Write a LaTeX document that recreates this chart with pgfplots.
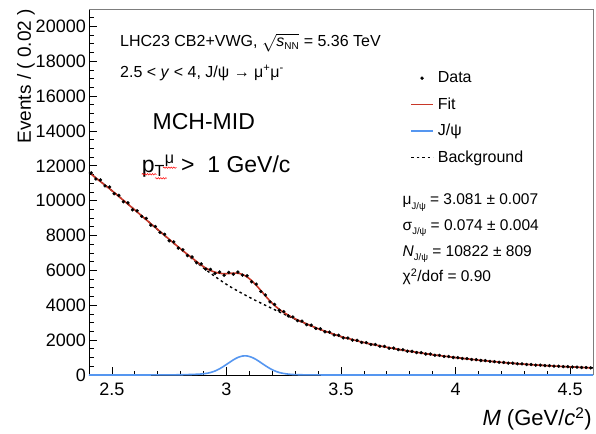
\documentclass[border=0pt]{standalone}
\usepackage{pgfplots}
\usepackage{pgfplotstable}
\pgfplotsset{compat=1.18}
\usepackage{fontspec}
\setmainfont{Liberation Sans}
\usetikzlibrary{decorations.pathmorphing}
\definecolor{fitred}{RGB}{200,55,40}
\definecolor{jpsiblue}{RGB}{85,150,240}
\definecolor{framegray}{RGB}{125,125,125}

\pgfplotstableread{
x     fit    data
2.41  11516  11600
2.43  11308  11250
2.45  11100  11190
2.47  10892  10850
2.49  10684  10790
2.51  10469  10400
2.53  10247  10310
2.55  10025  9940
2.57  9803   9880
2.59  9581   9480
2.61  9357   9420
2.63  9131   9100
2.65  8905   8990
2.67  8679   8600
2.69  8457   8520
2.71  8233   8180
2.73  8010   8070
2.75  7788   7700
2.77  7566   7640
2.79  7345   7280
2.81  7129   7187
2.83  6920   6851
2.85  6712   6775
2.87  6507   6439
2.89  6306   6373
2.91  6134   6076
2.93  6000   6058
2.95  5900   5830
2.97  5839   5912
2.99  5810   5724
3.01  5820   5891
3.03  5845   5783
3.05  5838   5905
3.07  5770   5727
3.09  5626   5689
3.11  5414   5346
3.13  5149   5218
3.15  4847   4790
3.17  4539   4592
3.19  4247   4194
3.21  3990   4050
3.23  3772   3720
3.25  3593   3640
3.27  3433   3390
3.29  3289   3330
3.31  3163   3120
3.33  3047   3090
3.35  2933   2890
3.37  2821   2860
3.39  2709   2670
3.41  2608   2650
3.43  2517   2480
3.45  2426   2460
3.47  2335   2300
3.49  2245   2280
3.51  2166   2130
3.53  2098   2120
3.55  2030   2000
3.57  1962   1990
3.59  1894   1870
3.61  1833   1860
3.63  1779   1750
3.65  1725   1750
3.67  1671   1650
3.69  1617   1640
3.71  1567   1540
3.73  1521   1545
3.75  1475   1455
3.77  1429   1450
3.79  1383   1365
3.81  1340   1360
3.83  1302   1285
3.85  1262   1280
3.87  1224   1205
3.89  1184   1200
3.91  1148   1135
3.93  1115   1130
3.95  1082   1065
3.97  1050   1062
3.99  1016   1005
4.01  985    995
4.03  956    945
4.05  928    940
4.07  898    888
4.09  870    880
4.11  842    832
4.13  816    826
4.15  790    782
4.17  764    772
4.19  738    730
4.21  714    722
4.23  694    686
4.25  672    680
4.27  652    645
4.29  630    637
4.31  611    604
4.33  594    601
4.35  578    571
4.37  560    566
4.39  544    539
4.41  528    533
4.43  514    508
4.45  500    505
4.47  486    481
4.49  472    476
4.51  459    455
4.53  447    451
4.55  435    431
4.57  423    427
4.59  411    408
}\mass

\pgfplotstableread{
x    bg
2.40 11620
2.50 10580
2.60 9470
2.70 8340
2.80 7220
2.90 6140
3.00 5200
3.10 4460
3.20 3810
3.30 3200
3.40 2650
3.50 2200
3.60 1860
3.70 1590
3.80 1360
3.90 1165
4.00 1000
4.10 855
4.20 725
4.30 620
4.40 535
4.50 465
4.60 405
}\bkg

\begin{document}
\begin{tikzpicture}[x=1pt,y=1pt]
\begin{axis}[
  scale only axis, width=504pt, height=366pt,
  xmin=2.4, xmax=4.6, ymin=0, ymax=21000,
  clip=false,
  axis x line*=bottom, axis y line*=left,
  axis line style={black, line width=0.9pt},
  xtick={2.5,3,3.5,4,4.5}, xticklabels={2.5,3,3.5,4,4.5},
  minor xtick={2.4,2.5,2.6,2.7,2.8,2.9,3.0,3.1,3.2,3.3,3.4,3.5,3.6,3.7,3.8,3.9,4.0,4.1,4.2,4.3,4.4,4.5,4.6},
  ytick={0,2000,...,20000},
  minor ytick={0,500,...,21000},
  scaled y ticks=false,
  /pgf/number format/1000 sep={},
  /pgf/number format/assume math mode=true,
  tick align=inside,
  major tick length=8pt, minor tick length=4.5pt,
  tick style={black, line width=0.8pt},
  tick label style={font=\fontsize{18}{18}\selectfont},
  yticklabel style={inner sep=0pt, xshift=-3pt},
  xticklabel style={inner sep=0pt, yshift=-8pt},
  ylabel={Events / ( 0.02 )},
  ylabel style={font=\fontsize{19}{19}\selectfont, at={(axis description cs:-0.125,1.0)}, anchor=east, inner sep=0pt},
  xlabel={\textit{M} (GeV/\textit{c}\textsuperscript{2})},
  xlabel style={font=\fontsize{22}{22}\selectfont, at={(axis description cs:1,0)}, anchor=east, inner sep=0pt, xshift=-1pt, yshift=-44pt},
  legend image code/.code={\draw[mark repeat=2,mark phase=2,#1] plot coordinates {(0pt,0pt) (11pt,0pt) (22pt,0pt)};},
  reverse legend,
  legend cell align=left,
  legend style={draw=none, fill=none, inner sep=0pt, at={(axis description cs:0.637,0.832)}, anchor=north west,
    font=\fontsize{16}{16}\selectfont, row sep=11.5pt, column sep=4pt,
    nodes={inner sep=0pt, text height=12pt, text depth=3pt}},
]
\addplot[black, line width=1.4pt, dash pattern=on 2.5pt off 3pt, smooth] table[x=x, y=bg] {\bkg};
\addlegendentry{Background}
\addplot[jpsiblue, line width=1.6pt, smooth] coordinates {
(2.40,0) (2.50,0) (2.60,1) (2.65,2) (2.69,4) (2.71,5) (2.73,6) (2.75,8) (2.77,10) (2.79,13)
(2.81,17) (2.83,24) (2.85,32) (2.87,43) (2.89,58) (2.91,88) (2.93,142) (2.95,230) (2.97,357)
(2.99,516) (3.01,694) (3.03,867) (3.05,1008) (3.07,1088) (3.09,1092) (3.11,1019) (3.13,884)
(3.15,712) (3.17,534) (3.19,372) (3.21,241) (3.23,145) (3.25,88) (3.27,50) (3.29,28) (3.31,18)
(3.33,12) (3.35,8) (3.37,6) (3.39,4) (3.45,2) (3.60,1) (3.80,0) (4.60,0)};
\addlegendentry{J/ψ}
\addplot[fitred, line width=1.6pt, smooth] table[x=x, y=fit] {\mass};
\addlegendentry{Fit}
\addplot[black, only marks, mark=*, mark size=1.5pt] table[x=x, y=data] {\mass};
\addlegendentry{Data}

\draw[framegray, line width=0.9pt] (rel axis cs:0,1) -- (rel axis cs:1,1) -- (rel axis cs:1,0);

\node[anchor=base west, inner sep=0pt, font=\fontsize{16}{16}\selectfont] at (axis description cs:0.0615,0.897)
  {LHC23 CB2+VWG, $\sqrt{\mbox{\itshape s}_{\mbox{\fontsize{10}{10}\selectfont NN}}}$ = 5.36 TeV};
\node[anchor=base west, inner sep=0pt, font=\fontsize{16}{16}\selectfont] at (axis description cs:0.0615,0.813)
  {2.5 < \textit{y} < 4, J/ψ → μ\textsuperscript{+}μ\textsuperscript{-}};
\node[anchor=base west, inner sep=0pt, font=\fontsize{23}{23}\selectfont] at (axis description cs:0.126,0.672)
  {MCH-MID};
\node[anchor=base west, inner sep=0pt, font=\fontsize{23}{23}\selectfont] at (axis description cs:0.1045,0.552)
  {p\textsubscript{T}\textsuperscript{μ} > ~1 GeV/c};
\draw[red, line width=0.5pt, decorate, decoration={snake, amplitude=0.7pt, segment length=2.5pt}]
  (axis description cs:0.1046,0.5484) -- (axis description cs:0.1343,0.5484);
\draw[red, line width=0.5pt, decorate, decoration={snake, amplitude=0.7pt, segment length=2.5pt}]
  (axis description cs:0.131,0.5374) -- (axis description cs:0.154,0.5374);
\draw[red, line width=0.5pt, decorate, decoration={snake, amplitude=0.7pt, segment length=2.5pt}]
  (axis description cs:0.1468,0.5664) -- (axis description cs:0.174,0.5664);

\node[anchor=base west, inner sep=0pt, font=\fontsize{15.5}{15.5}\selectfont] at (axis description cs:0.622,0.4645)
  {μ\raisebox{-0.5ex}{\fontsize{9.5}{9.5}\selectfont J/ψ} = 3.081 ± 0.007};
\node[anchor=base west, inner sep=0pt, font=\fontsize{15.5}{15.5}\selectfont] at (axis description cs:0.622,0.396)
  {σ\raisebox{-0.5ex}{\fontsize{9.5}{9.5}\selectfont J/ψ} = 0.074 ± 0.004};
\node[anchor=base west, inner sep=0pt, font=\fontsize{15.5}{15.5}\selectfont] at (axis description cs:0.622,0.323)
  {\textit{N}\raisebox{-0.5ex}{\fontsize{9.5}{9.5}\selectfont J/ψ} = 10822 ± 809};
\node[anchor=base west, inner sep=0pt, font=\fontsize{15.5}{15.5}\selectfont] at (axis description cs:0.622,0.255)
  {χ\textsuperscript{2}/dof = 0.90};
\end{axis}
\pgfresetboundingbox
\path (current axis.south west) ++(-89pt,-58pt) rectangle ++(596pt,433pt);
\end{tikzpicture}
\end{document}
